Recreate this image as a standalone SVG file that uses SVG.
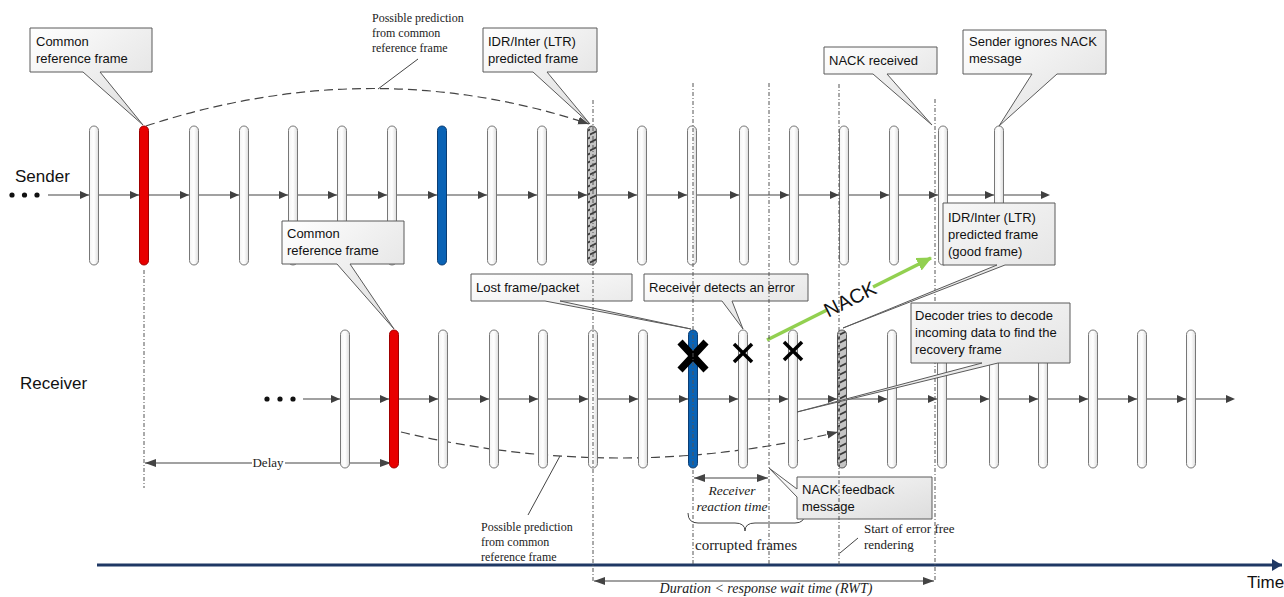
<svg xmlns="http://www.w3.org/2000/svg" xmlns:xlink="http://www.w3.org/1999/xlink" width="1284" height="597" viewBox="0 0 1284 597">
<style>
.fr{fill:url(#gFr);stroke:#777;stroke-width:1}
.red{fill:#e80000;stroke:#a00000;stroke-width:1}
.blue{fill:#0a63b5;stroke:#0b3d73;stroke-width:1}
.hat{fill:url(#pH);stroke:#555;stroke-width:1}
.co{fill:url(#gCo);stroke:#5a5a5a;stroke-width:1}
.t{font-family:"Liberation Sans",Arial,sans-serif;font-size:13px;fill:#111}
.big{font-family:"Liberation Sans",Arial,sans-serif;font-size:17px;fill:#111}
.s{font-family:"Liberation Serif","Times New Roman",serif;font-size:12px;fill:#222}
.si{font-family:"Liberation Serif","Times New Roman",serif;font-size:13.5px;font-style:italic;fill:#222}
.ln{stroke:#444;stroke-width:1.2;fill:none}
.dl{stroke:#555;stroke-width:1;stroke-dasharray:4,2,1,2;fill:none}
.dc{stroke:#444;stroke-width:1.2;stroke-dasharray:9,5;fill:none}
.x{stroke:#000;stroke-linecap:butt}
</style>
<defs>
<linearGradient id="gFr" x1="0" y1="0" x2="1" y2="0">
<stop offset="0" stop-color="#f4f4f4"/><stop offset="0.5" stop-color="#ffffff"/><stop offset="1" stop-color="#dcdcdc"/>
</linearGradient>
<linearGradient id="gCo" x1="0" y1="0" x2="1" y2="1">
<stop offset="0" stop-color="#ffffff"/><stop offset="1" stop-color="#dddddd"/>
</linearGradient>
<pattern id="pH" patternUnits="userSpaceOnUse" width="10" height="8">
<rect width="10" height="8" fill="#c4c4c4"/>
<path d="M-1,7 L11,1" stroke="#3a3a3a" stroke-width="1.6"/>
</pattern>
<path id="ah" d="M0,0 L-9,-4 L-9,4 Z" fill="#404040"/>
<marker id="ar" markerUnits="userSpaceOnUse" markerWidth="12" markerHeight="10" refX="11" refY="5" orient="auto-start-reverse">
<path d="M0,1 L11,5 L0,9 Z" fill="#444"/>
</marker>
<marker id="gm" markerUnits="userSpaceOnUse" markerWidth="16" markerHeight="14" refX="14" refY="7" orient="auto">
<path d="M0,0 L15,7 L0,14 Z" fill="#92d050"/>
</marker>
<marker id="tm" markerUnits="userSpaceOnUse" markerWidth="12" markerHeight="12" refX="10" refY="6" orient="auto">
<path d="M0,0 L10,6 L0,12 Z" fill="#1f3864"/>
</marker>
</defs>
<rect width="1284" height="597" fill="#ffffff"/>

<g id="labels">
<text class="big" x="15" y="182">Sender</text>
<text class="big" x="20" y="389">Receiver</text>
<text class="big" x="1247" y="588">Time</text>
<circle cx="12" cy="195" r="2.6" fill="#111"/><circle cx="24.5" cy="195" r="2.6" fill="#111"/><circle cx="37" cy="195" r="2.6" fill="#111"/>
<circle cx="267" cy="399" r="2.6" fill="#111"/><circle cx="280" cy="399" r="2.6" fill="#111"/><circle cx="293" cy="399" r="2.6" fill="#111"/>
</g>

<g id="connectors">
<line class="ln" x1="48" y1="195" x2="1048" y2="195"/>
<use href="#ah" x="89" y="195"/><use href="#ah" x="139" y="195"/><use href="#ah" x="189" y="195"/><use href="#ah" x="239" y="195"/><use href="#ah" x="288" y="195"/><use href="#ah" x="337" y="195"/><use href="#ah" x="387" y="195"/><use href="#ah" x="437" y="195"/><use href="#ah" x="487" y="195"/><use href="#ah" x="537" y="195"/><use href="#ah" x="587" y="195"/><use href="#ah" x="637" y="195"/><use href="#ah" x="687" y="195"/><use href="#ah" x="739" y="195"/><use href="#ah" x="789" y="195"/><use href="#ah" x="839" y="195"/><use href="#ah" x="889" y="195"/><use href="#ah" x="938" y="195"/><use href="#ah" x="994" y="195"/><use href="#ah" x="1050" y="195"/>
<line class="ln" x1="303" y1="399" x2="1233" y2="399"/>
<use href="#ah" x="340" y="399"/><use href="#ah" x="389" y="399"/><use href="#ah" x="438" y="399"/><use href="#ah" x="489" y="399"/><use href="#ah" x="538" y="399"/><use href="#ah" x="588" y="399"/><use href="#ah" x="638" y="399"/><use href="#ah" x="688" y="399"/><use href="#ah" x="738" y="399"/><use href="#ah" x="788" y="399"/><use href="#ah" x="837" y="399"/><use href="#ah" x="887" y="399"/><use href="#ah" x="937" y="399"/><use href="#ah" x="989" y="399"/><use href="#ah" x="1038" y="399"/><use href="#ah" x="1088" y="399"/><use href="#ah" x="1137" y="399"/><use href="#ah" x="1186" y="399"/><use href="#ah" x="1235" y="399"/>
<path class="dc" d="M146,126 Q372,52 589,124" marker-end="url(#ar)"/>
<path class="dc" d="M401,432 Q621,484 838,432" marker-end="url(#ar)"/>
<line x1="378" y1="89" x2="418" y2="59" stroke="#444" stroke-width="1"/>
<line x1="528" y1="515" x2="560" y2="456" stroke="#444" stroke-width="1"/>
<line x1="840" y1="553" x2="858" y2="538" stroke="#444" stroke-width="1"/>
<line class="ln" x1="145" y1="463" x2="252" y2="463" marker-start="url(#ar)"/>
<line class="ln" x1="285" y1="463" x2="391" y2="463" marker-end="url(#ar)"/>
<line class="ln" x1="694" y1="478" x2="768" y2="478" marker-start="url(#ar)" marker-end="url(#ar)"/>
<line class="ln" x1="594" y1="581" x2="934" y2="581" marker-start="url(#ar)" marker-end="url(#ar)"/>
<path d="M688,513 Q688,523 698,523 L735,523 Q745,523 745,531 Q745,523 755,523 L795,523 Q805,523 805,513" stroke="#444" stroke-width="1" fill="none"/>
<line x1="97" y1="565" x2="1282" y2="565" stroke="#1f3864" stroke-width="3" marker-end="url(#tm)"/>
<line x1="767" y1="340" x2="931" y2="258" stroke="#92d050" stroke-width="3.5" marker-end="url(#gm)"/>
</g>

<g id="sender-frames">
<rect class="fr" x="89.5" y="126" width="9" height="139" rx="4.5"/>
<rect class="red" x="139.5" y="126" width="9" height="139" rx="4.5"/>
<rect class="fr" x="189.5" y="126" width="9" height="139" rx="4.5"/>
<rect class="fr" x="239.5" y="126" width="9" height="139" rx="4.5"/>
<rect class="fr" x="288.5" y="126" width="9" height="139" rx="4.5"/>
<rect class="fr" x="337.5" y="126" width="9" height="139" rx="4.5"/>
<rect class="fr" x="387.5" y="126" width="9" height="139" rx="4.5"/>
<rect class="blue" x="437.5" y="126" width="9" height="139" rx="4.5"/>
<rect class="fr" x="487.5" y="126" width="9" height="139" rx="4.5"/>
<rect class="fr" x="537.5" y="126" width="9" height="139" rx="4.5"/>
<rect class="hat" x="587.5" y="126" width="9" height="139" rx="4.5"/>
<rect class="fr" x="637.5" y="126" width="9" height="139" rx="4.5"/>
<rect class="fr" x="687.5" y="126" width="9" height="139" rx="4.5"/>
<rect class="fr" x="739.5" y="126" width="9" height="139" rx="4.5"/>
<rect class="fr" x="789.5" y="126" width="9" height="139" rx="4.5"/>
<rect class="fr" x="839.5" y="126" width="9" height="139" rx="4.5"/>
<rect class="fr" x="889.5" y="126" width="9" height="139" rx="4.5"/>
<rect class="fr" x="938.5" y="126" width="9" height="139" rx="4.5"/>
<rect class="fr" x="994.5" y="126" width="9" height="139" rx="4.5"/>
</g>

<g id="receiver-frames">
<rect class="fr" x="340.5" y="330" width="9" height="138" rx="4.5"/>
<rect class="red" x="389.5" y="330" width="9" height="138" rx="4.5"/>
<rect class="fr" x="438.5" y="330" width="9" height="138" rx="4.5"/>
<rect class="fr" x="489.5" y="330" width="9" height="138" rx="4.5"/>
<rect class="fr" x="538.5" y="330" width="9" height="138" rx="4.5"/>
<rect class="fr" x="588.5" y="330" width="9" height="138" rx="4.5"/>
<rect class="fr" x="638.5" y="330" width="9" height="138" rx="4.5"/>
<rect class="blue" x="688.5" y="330" width="9" height="138" rx="4.5"/>
<rect class="fr" x="738.5" y="330" width="9" height="138" rx="4.5"/>
<rect class="fr" x="788.5" y="330" width="9" height="138" rx="4.5"/>
<rect class="hat" x="837.5" y="330" width="9" height="138" rx="4.5"/>
<rect class="fr" x="887.5" y="330" width="9" height="138" rx="4.5"/>
<rect class="fr" x="937.5" y="330" width="9" height="138" rx="4.5"/>
<rect class="fr" x="989.5" y="330" width="9" height="138" rx="4.5"/>
<rect class="fr" x="1038.5" y="330" width="9" height="138" rx="4.5"/>
<rect class="fr" x="1088.5" y="330" width="9" height="138" rx="4.5"/>
<rect class="fr" x="1137.5" y="330" width="9" height="138" rx="4.5"/>
<rect class="fr" x="1186.5" y="330" width="9" height="138" rx="4.5"/>
</g>

<g id="error-marks">
<path class="x" d="M680,342 L706,370 M706,342 L680,370" stroke-width="7"/>
<path class="x" d="M734,344 L752,362 M752,344 L734,362" stroke-width="3.5"/>
<path class="x" d="M784,342 L802,360 M802,342 L784,360" stroke-width="3.5"/>
</g>

<g id="nack-label">
<rect x="-26" y="-11" width="52" height="22" fill="#ffffff" transform="translate(850,299) rotate(-26.6)"/>
<text x="0" y="7" text-anchor="middle" transform="translate(850,299) rotate(-26.6)" style="font-family:'Liberation Sans',Arial,sans-serif;font-size:20px;fill:#111">NACK</text>
</g>

<g id="annotations">
<text class="s" x="372" y="22">Possible prediction</text>
<text class="s" x="372" y="37">from common</text>
<text class="s" x="372" y="52">reference frame</text>
<text class="s" x="481" y="531">Possible prediction</text>
<text class="s" x="481" y="546">from common</text>
<text class="s" x="481" y="561">reference frame</text>
<rect x="253" y="455" width="31" height="14" fill="#fff"/>
<text x="268" y="467" text-anchor="middle" style="font-family:'Liberation Serif','Times New Roman',serif;font-size:13px;fill:#222">Delay</text>
<text class="si" x="732" y="495" text-anchor="middle">Receiver</text>
<text class="si" x="732" y="511" text-anchor="middle">reaction time</text>
<text x="746" y="550" text-anchor="middle" style="font-family:'Liberation Serif','Times New Roman',serif;font-size:15px;fill:#222">corrupted frames</text>
<text x="864" y="533" style="font-family:'Liberation Serif','Times New Roman',serif;font-size:13px;fill:#222">Start of error free</text>
<text x="864" y="549" style="font-family:'Liberation Serif','Times New Roman',serif;font-size:13px;fill:#222">rendering</text>
<text x="766" y="593" text-anchor="middle" style="font-family:'Liberation Serif','Times New Roman',serif;font-size:14px;font-style:italic;fill:#222">Duration &lt; response wait time (RWT)</text>
</g>

<g id="callout-common-sender">
<path class="co" d="M30,28 H152 V72 H100 L143,125 L83,72 H30 Z"/>
<text class="t" x="36" y="46">Common</text><text class="t" x="36" y="63">reference frame</text>
</g>
<g id="callout-idr-sender">
<path class="co" d="M483,28 H597 V72 H547 L590,124 L533,72 H483 Z"/>
<text class="t" x="488" y="46">IDR/Inter (LTR)</text><text class="t" x="488" y="63">predicted frame</text>
</g>
<g id="callout-nack-received">
<path class="co" d="M824,47 H937 V74 H887 L932,125 L873,74 H824 Z"/>
<text class="t" x="829" y="65">NACK received</text>
</g>
<g id="callout-sender-ignores">
<path class="co" d="M963,30 H1106 V74 H1057 L999,126 L1032,74 H963 Z"/>
<text class="t" x="969" y="46">Sender ignores NACK</text><text class="t" x="969" y="63">message</text>
</g>
<g id="callout-common-receiver">
<path class="co" d="M282,221 H404 V264 H350 L394,329 L337,264 H282 Z"/>
<text class="t" x="287" y="238">Common</text><text class="t" x="287" y="255">reference frame</text>
</g>
<g id="callout-lost">
<path class="co" d="M471,274 H632 V301 H560 L691,329 L545,301 H471 Z"/>
<text class="t" x="476" y="292">Lost frame/packet</text>
</g>
<g id="callout-detects">
<path class="co" d="M644,274 H808 V301 H732 L743,329 L722,301 H644 Z"/>
<text class="t" x="649" y="292">Receiver detects an error</text>
</g>
<g id="callout-nack-feedback">
<path class="co" d="M797,477 H932 V519 H797 V497 L769,468 L797,489 Z"/>
<text class="t" x="802" y="494">NACK feedback</text><text class="t" x="802" y="511">message</text>
</g>

<g id="guides">
<line class="dl" x1="144" y1="270" x2="144" y2="488"/>
<line class="dl" x1="593" y1="100" x2="593" y2="581"/>
<line class="dl" x1="693" y1="83" x2="693" y2="565"/>
<line class="dl" x1="769" y1="83" x2="769" y2="565"/>
<line class="dl" x1="839" y1="84" x2="839" y2="565"/>
<line class="dl" x1="935" y1="99" x2="935" y2="582"/>
</g>

<g id="callout-good-frame">
<path class="co" d="M943,203 H1055 V265 H1005 L843,328 L997,265 H943 Z"/>
<text class="t" x="948" y="222">IDR/Inter (LTR)</text><text class="t" x="948" y="239">predicted frame</text><text class="t" x="948" y="256">(good frame)</text>
</g>
<g id="callout-decoder">
<path class="co" d="M911,303 H1070 V363 H998 L797,412 L982,363 H911 Z"/>
<text class="t" x="915" y="320">Decoder tries to decode</text><text class="t" x="915" y="337">incoming data to find the</text><text class="t" x="915" y="354">recovery frame</text>
</g>
</svg>
